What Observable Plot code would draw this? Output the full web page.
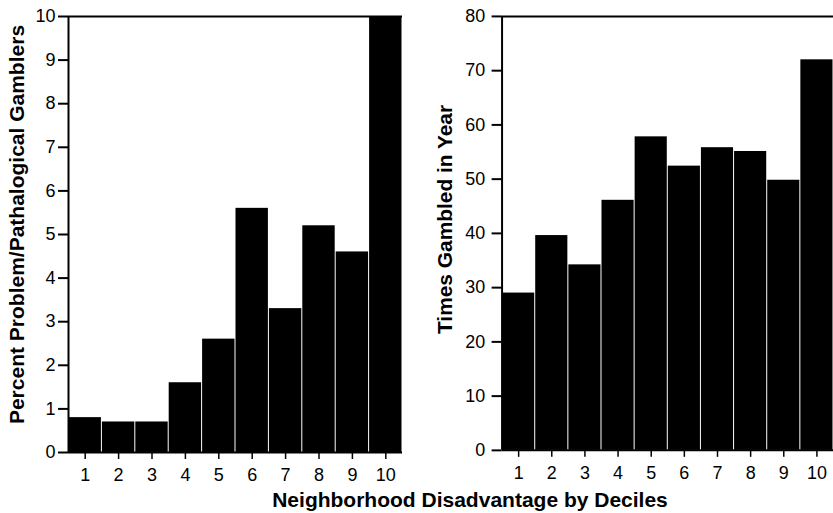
<!DOCTYPE html>
<html><head><meta charset="utf-8">
<script src="https://cdn.jsdelivr.net/npm/d3@7"></script>
<script src="https://cdn.jsdelivr.net/npm/@observablehq/plot@0.6"></script>
<style>
body{margin:0;background:#fff;}
#wrap{position:relative;width:833px;height:513px;overflow:hidden;font-family:"Liberation Sans",Arial,Helvetica,sans-serif;background:#fff;}
#left{position:absolute;left:0;top:0;}
#right{position:absolute;left:410px;top:0;}
#xtitle{position:absolute;left:0;width:940px;text-align:center;top:489px;font-size:21px;font-weight:bold;line-height:21px;color:#000;}
</style></head><body>
<div id="wrap"><div id="left"></div><div id="right"></div><div id="xtitle">Neighborhood Disadvantage by Deciles</div></div>
<script>
const deciles = [1, 2, 3, 4, 5, 6, 7, 8, 9, 10];
const percentProblem = [0.8, 0.7, 0.7, 1.6, 2.6, 5.6, 3.3, 5.2, 4.6, 10.0];
const timesGambled = [29.0, 39.6, 34.2, 46.1, 57.8, 52.4, 55.8, 55.1, 49.8, 72.0];
const leftTicks = [0, 1, 2, 3, 4, 5, 6, 7, 8, 9, 10];
const rightTicks = [0, 10, 20, 30, 40, 50, 60, 70, 80];
const leftTitle = "Percent Problem/Pathalogical Gamblers";
const rightTitle = "Times Gambled in Year";

const font = "Liberation Sans, Arial, Helvetica, sans-serif";

function panel({values, ticks, ymax, title, width, marginLeft, marginRight, tickPadding, titleDx, titleDy}) {
  const data = deciles.map((d, i) => ({decile: d, value: values[i]}));
  return Plot.plot({
    width, height: 513,
    marginLeft, marginRight, marginTop: 16, marginBottom: 61,
    style: {fontFamily: font, background: "transparent", color: "black"},
    x: {domain: [0.5, 10.5], axis: null},
    y: {domain: [0, ymax], axis: null},
    marks: [
      Plot.rectY(data, {x1: d => d.decile - 0.5, x2: d => d.decile + 0.5, y: "value", fill: "black", insetLeft: 0.5, insetRight: 0.5}),
      Plot.ruleY([ymax], {stroke: "black", strokeWidth: 2}),
      Plot.ruleY([0], {stroke: "black", strokeWidth: 2}),
      Plot.ruleX([0.5], {stroke: "black", strokeWidth: 2}),
      Plot.axisY({ticks, tickSize: 10, tickPadding, fontSize: 18, strokeWidth: 2, tickFormat: d => String(d), label: null}),
      Plot.axisX({ticks: deciles, tickSize: 7, tickPadding: 9, fontSize: 18, strokeWidth: 1.5, tickFormat: d => String(d), label: null}),
      Plot.text([title], {frameAnchor: "left", rotate: -90, textAnchor: "middle", lineAnchor: "bottom", dx: titleDx, dy: titleDy, fontSize: 21, fontWeight: "bold", fill: "black"})
    ]
  });
}

document.getElementById("left").append(panel({
  values: percentProblem, ticks: leftTicks, ymax: 10, title: leftTitle,
  width: 410, marginLeft: 68, marginRight: 8, tickPadding: 3, titleDx: -45, titleDy: -10
}));
document.getElementById("right").append(panel({
  values: timesGambled, ticks: rightTicks, ymax: 80, title: rightTitle,
  width: 425, marginLeft: 92, marginRight: 0, tickPadding: 7, titleDx: -50, titleDy: -14
}));
</script>
</body></html>
